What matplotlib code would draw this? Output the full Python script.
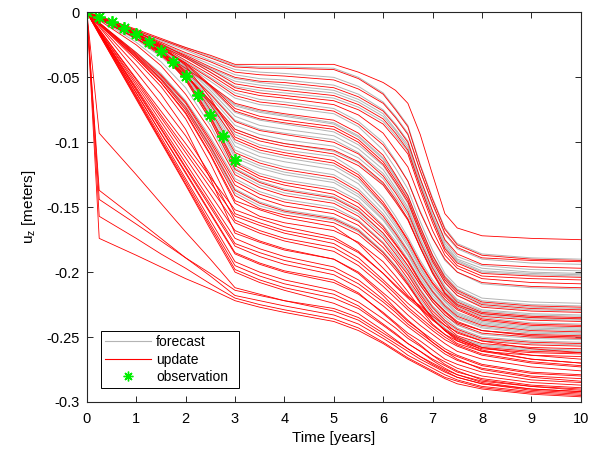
import numpy as np
import matplotlib
matplotlib.use("Agg")
import matplotlib.pyplot as plt
from matplotlib.lines import Line2D

plt.rcParams['font.family'] = ['Liberation Sans', 'DejaVu Sans']
plt.rcParams['axes.unicode_minus'] = False

# time nodes [years]
t_years = [0, 0.25, 1, 1.5, 2, 2.5, 3, 3.5, 4, 5, 5.5, 6, 6.25, 6.5, 6.75, 7, 7.25, 7.5, 8, 9, 10]

# settlement (mm, downward positive), one row per ensemble member
forecast_mm = [
    [0, 3, 14, 21, 27, 34, 41, 42, 42, 43, 50, 62, 74, 87, 117, 143, 166, 178, 186, 189, 190],
    [0, 4, 15, 22, 29, 37, 44, 46, 47, 50, 57, 69, 80, 93, 122, 148, 171, 182, 190, 193, 194],
    [0, 4, 16, 24, 32, 40, 48, 51, 52, 56, 63, 75, 86, 99, 128, 153, 176, 188, 195, 198, 199],
    [0, 4, 17, 26, 34, 43, 51, 54, 56, 60, 67, 78, 90, 102, 131, 156, 178, 190, 197, 200, 201],
    [0, 4, 17, 26, 35, 44, 53, 56, 58, 62, 69, 80, 91, 104, 132, 157, 180, 191, 199, 201, 202],
    [0, 4, 16, 25, 35, 46, 57, 60, 62, 66, 73, 84, 95, 107, 134, 159, 181, 192, 200, 202, 203],
    [0, 4, 17, 27, 38, 50, 62, 67, 69, 74, 84, 100, 114, 130, 153, 174, 191, 200, 209, 212, 213],
    [0, 5, 18, 29, 40, 53, 66, 71, 73, 78, 88, 106, 120, 136, 161, 183, 201, 211, 220, 223, 224],
    [0, 5, 20, 31, 43, 57, 71, 76, 79, 85, 95, 112, 126, 141, 165, 187, 203, 213, 222, 225, 226],
    [0, 5, 19, 30, 42, 56, 72, 77, 80, 86, 96, 113, 127, 143, 167, 188, 205, 215, 224, 227, 228],
    [0, 4, 17, 28, 41, 58, 77, 83, 86, 92, 102, 118, 132, 147, 171, 191, 208, 218, 226, 229, 230],
    [0, 4, 18, 29, 42, 60, 80, 87, 90, 95, 105, 121, 135, 150, 174, 194, 211, 221, 229, 232, 233],
    [0, 5, 18, 30, 44, 62, 83, 90, 93, 98, 108, 124, 137, 152, 176, 196, 212, 222, 230, 233, 234],
    [0, 5, 19, 31, 46, 65, 87, 94, 98, 103, 112, 128, 142, 156, 179, 199, 215, 224, 232, 235, 236],
    [0, 5, 20, 32, 48, 68, 90, 97, 101, 107, 116, 132, 145, 159, 181, 201, 216, 225, 233, 236, 237],
    [0, 5, 21, 34, 50, 70, 94, 102, 106, 111, 123, 143, 157, 173, 191, 206, 218, 227, 235, 239, 240],
    [0, 4, 15, 26, 43, 69, 100, 108, 112, 118, 129, 149, 163, 178, 196, 211, 222, 231, 238, 242, 243],
    [0, 4, 15, 27, 44, 71, 103, 111, 115, 121, 132, 152, 165, 180, 197, 212, 223, 232, 239, 243, 244],
    [0, 4, 16, 28, 46, 73, 106, 114, 119, 125, 136, 155, 168, 183, 199, 214, 225, 233, 240, 244, 245],
    [0, 4, 17, 29, 47, 76, 110, 118, 123, 129, 140, 159, 171, 186, 202, 216, 227, 235, 242, 246, 247],
    [0, 4, 17, 29, 48, 77, 112, 120, 125, 131, 142, 160, 173, 187, 204, 218, 228, 236, 243, 247, 248],
    [0, 4, 17, 30, 49, 79, 115, 124, 129, 135, 145, 164, 176, 190, 206, 220, 230, 239, 245, 249, 250],
    [0, 4, 18, 31, 52, 83, 120, 130, 136, 142, 152, 170, 182, 195, 210, 223, 233, 241, 248, 251, 252],
    [0, 5, 23, 38, 58, 87, 123, 133, 139, 145, 155, 172, 184, 197, 213, 226, 235, 243, 250, 253, 254],
    [0, 8, 31, 47, 68, 96, 128, 138, 144, 150, 160, 177, 188, 201, 216, 228, 238, 245, 252, 255, 256],
    [0, 8, 33, 50, 72, 102, 136, 146, 152, 158, 167, 184, 195, 207, 221, 233, 243, 250, 256, 259, 260],
    [0, 8, 33, 51, 74, 104, 139, 149, 154, 160, 169, 185, 196, 208, 223, 235, 244, 251, 257, 260, 261],
]

update_mm = [
    [0, 3, 13, 20, 27, 33, 40, 40, 40, 40, 46, 54, 60, 70, 94, 125, 155, 166, 172, 174, 175],
    [0, 3, 14, 21, 28, 35, 42, 43, 43, 44, 51, 63, 75, 88, 118, 144, 167, 179, 187, 190, 191],
    [0, 4, 15, 23, 31, 38, 46, 48, 49, 52, 59, 70, 81, 94, 122, 147, 170, 181, 189, 191, 192],
    [0, 4, 17, 25, 33, 42, 50, 53, 54, 58, 65, 76, 87, 100, 128, 153, 175, 186, 194, 196, 197],
    [0, 4, 15, 24, 34, 44, 55, 58, 60, 64, 71, 82, 93, 106, 134, 159, 182, 193, 201, 203, 204],
    [0, 4, 16, 26, 35, 46, 58, 62, 64, 68, 75, 86, 97, 109, 137, 162, 184, 195, 203, 205, 206],
    [0, 4, 17, 26, 37, 48, 60, 64, 66, 71, 79, 93, 106, 119, 144, 168, 187, 197, 205, 208, 209],
    [0, 4, 18, 28, 39, 51, 64, 69, 71, 76, 86, 102, 115, 130, 154, 174, 190, 200, 208, 211, 212],
    [0, 5, 20, 31, 43, 56, 70, 75, 78, 83, 93, 110, 125, 141, 165, 187, 204, 214, 223, 226, 227],
    [0, 4, 16, 27, 39, 56, 74, 80, 83, 88, 98, 115, 129, 144, 168, 190, 206, 216, 225, 228, 229],
    [0, 4, 17, 27, 40, 57, 76, 82, 85, 90, 100, 117, 131, 146, 170, 192, 208, 218, 227, 230, 231],
    [0, 5, 18, 30, 45, 63, 84, 91, 94, 100, 109, 126, 139, 154, 177, 197, 213, 223, 231, 234, 235],
    [0, 5, 20, 32, 48, 68, 90, 97, 101, 106, 115, 131, 144, 159, 181, 201, 217, 226, 234, 237, 238],
    [0, 5, 20, 33, 49, 69, 92, 99, 103, 109, 118, 133, 146, 160, 181, 200, 216, 225, 232, 235, 236],
    [0, 3, 14, 25, 41, 66, 96, 104, 108, 114, 125, 146, 160, 175, 193, 208, 219, 228, 236, 240, 241],
    [0, 4, 18, 30, 47, 71, 98, 106, 110, 116, 127, 148, 161, 176, 194, 209, 221, 229, 237, 241, 242],
    [0, 4, 16, 28, 46, 75, 108, 116, 121, 127, 138, 157, 170, 184, 201, 215, 226, 234, 241, 245, 246],
    [0, 4, 17, 30, 50, 80, 116, 126, 131, 137, 147, 165, 178, 191, 207, 221, 231, 239, 245, 249, 250],
    [0, 4, 18, 31, 51, 81, 118, 128, 133, 140, 150, 167, 179, 192, 208, 221, 230, 238, 245, 248, 249],
    [0, 4, 18, 31, 52, 83, 121, 131, 137, 143, 153, 170, 182, 195, 210, 223, 233, 240, 247, 250, 251],
    [0, 6, 25, 41, 63, 91, 125, 135, 141, 147, 157, 174, 186, 199, 214, 227, 237, 244, 251, 254, 255],
    [0, 8, 31, 48, 69, 98, 130, 140, 146, 152, 161, 178, 190, 202, 217, 230, 239, 247, 253, 256, 257],
    [0, 8, 32, 49, 70, 100, 133, 143, 149, 155, 164, 181, 192, 205, 219, 232, 241, 249, 255, 258, 259],
    [0, 8, 33, 51, 73, 103, 137, 147, 153, 159, 168, 185, 196, 209, 223, 236, 245, 253, 259, 262, 263],
    [0, 8, 34, 52, 75, 106, 141, 151, 156, 162, 171, 187, 198, 210, 224, 236, 245, 252, 258, 261, 262],
    [0, 9, 35, 54, 77, 109, 145, 152, 158, 165, 178, 197, 207, 218, 227, 236, 245, 251, 260, 267, 270],
    [0, 9, 35, 54, 78, 110, 147, 157, 162, 168, 177, 192, 203, 215, 228, 240, 248, 255, 261, 264, 265],
    [0, 13, 51, 76, 101, 127, 152, 159, 165, 173, 184, 201, 211, 220, 228, 237, 244, 250, 258, 264, 267],
    [0, 9, 37, 57, 82, 116, 155, 162, 168, 175, 185, 201, 210, 219, 226, 234, 241, 246, 253, 259, 262],
    [0, 13, 52, 79, 105, 131, 157, 164, 170, 178, 189, 206, 215, 224, 232, 241, 248, 253, 261, 267, 270],
    [0, 11, 46, 70, 95, 125, 160, 168, 174, 181, 192, 208, 217, 227, 235, 243, 250, 256, 263, 269, 272],
    [0, 14, 54, 81, 108, 135, 162, 170, 176, 184, 195, 211, 220, 229, 237, 245, 252, 257, 264, 270, 273],
    [0, 14, 56, 84, 112, 140, 168, 176, 182, 190, 200, 216, 224, 233, 241, 248, 255, 261, 267, 273, 276],
    [0, 10, 41, 63, 90, 128, 170, 177, 183, 190, 201, 218, 228, 237, 245, 254, 261, 267, 275, 281, 284],
    [0, 15, 58, 87, 116, 145, 174, 182, 188, 196, 206, 221, 229, 238, 245, 252, 259, 264, 271, 277, 279],
    [0, 15, 59, 89, 119, 148, 178, 185, 191, 199, 209, 223, 231, 240, 247, 254, 261, 265, 272, 278, 280],
    [0, 15, 60, 90, 120, 150, 180, 188, 194, 202, 212, 226, 234, 242, 249, 256, 263, 268, 274, 280, 282],
    [0, 15, 62, 93, 123, 154, 185, 193, 199, 206, 216, 232, 240, 249, 256, 264, 271, 276, 283, 288, 291],
    [0, 16, 62, 93, 124, 155, 186, 194, 200, 208, 217, 231, 239, 247, 253, 260, 267, 271, 277, 283, 285],
    [0, 16, 64, 96, 128, 160, 192, 200, 206, 214, 223, 236, 243, 251, 257, 264, 269, 274, 280, 285, 287],
    [0, 16, 65, 98, 130, 163, 195, 203, 209, 217, 226, 240, 247, 255, 261, 268, 274, 279, 285, 290, 292],
    [0, 17, 66, 99, 132, 165, 198, 206, 212, 220, 228, 241, 248, 255, 261, 267, 272, 277, 282, 287, 289],
    [0, 17, 67, 100, 133, 167, 200, 208, 214, 224, 232, 245, 252, 259, 265, 271, 276, 281, 286, 291, 293],
    [0, 93, 125, 147, 169, 190, 212, 217, 222, 230, 237, 249, 255, 261, 267, 272, 277, 281, 286, 290, 292],
    [0, 137, 159, 174, 189, 203, 218, 222, 226, 233, 240, 251, 257, 264, 269, 274, 279, 283, 288, 292, 294],
    [0, 144, 163, 176, 189, 201, 214, 218, 222, 228, 235, 247, 253, 259, 265, 270, 275, 279, 284, 288, 290],
    [0, 157, 174, 186, 197, 209, 220, 225, 229, 236, 243, 254, 260, 266, 271, 276, 281, 284, 289, 293, 295],
    [0, 174, 187, 196, 205, 213, 222, 227, 231, 238, 245, 255, 261, 267, 272, 277, 282, 286, 290, 294, 296],
]

obs_t = [0, 0.25, 0.5, 0.75, 1, 1.25, 1.5, 1.75, 2, 2.25, 2.5, 2.75, 3]
obs_uz = [0, -0.0038, -0.0077, -0.0118, -0.0167, -0.0225, -0.0295,
          -0.0382, -0.0492, -0.0633, -0.0787, -0.0954, -0.1138]

t = np.array(t_years)
fc = -np.array(forecast_mm).T / 1000.0
up = -np.array(update_mm).T / 1000.0

fig = plt.figure(figsize=(5.95, 4.53), dpi=100)
ax = fig.add_axes([0.146, 0.1126, 0.830, 0.860])

gray = '#b4b4b4'
green = '#00ee00'
star = (8, 2, 0)
ax.plot(t, fc, color=gray, lw=0.7)
ax.plot(t, up, color='red', lw=0.6)
ax.plot(obs_t, obs_uz, ls='none', marker=star, ms=9, mew=1.3, color=green)

ax.set_xlim(0, 10)
ax.set_ylim(-0.3, 0)
ax.set_xticks(range(0, 11))
ax.set_yticks([0, -0.05, -0.1, -0.15, -0.2, -0.25, -0.3])
ax.set_yticklabels(['0', '-0.05', '-0.1', '-0.15', '-0.2', '-0.25', '-0.3'])
ax.tick_params(direction='in', top=True, right=True, length=4, width=0.7,
               labelsize=10.5, color='#262626')
ax.tick_params(axis='x', pad=7.5)
ax.tick_params(axis='y', pad=5)
for s in ax.spines.values():
    s.set_color('#262626')
    s.set_linewidth(0.8)

ax.set_xlabel('Time [years]', fontsize=11, labelpad=3)
ax.set_ylabel(r'$\mathregular{u_z}$ [meters]', fontsize=11, labelpad=6)

handles = [Line2D([], [], color=gray, lw=0.8),
           Line2D([], [], color='red', lw=0.8),
           Line2D([], [], ls='none', marker=star, ms=7, mew=1.0, color=green)]
leg = ax.legend(handles, ['forecast', 'update', 'observation'],
                loc='lower left', bbox_to_anchor=(0.028, 0.035, 0.281, 0.145),
                mode='expand', borderaxespad=0,
                fontsize=10, handlelength=3.3, labelspacing=0.25,
                fancybox=False, framealpha=1, edgecolor='black',
                borderpad=0.3, handletextpad=0.4)
leg.get_frame().set_linewidth(0.7)

fig.savefig('out.png', dpi=100)
